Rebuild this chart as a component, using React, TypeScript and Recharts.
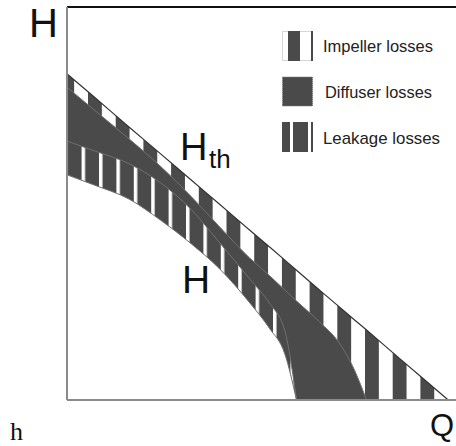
import { ComposedChart, XAxis, YAxis, Area, Line, ReferenceLine } from "recharts";

// flow rate Q (0..100) and head values (0..100)
const Q = [0, 7, 16, 24, 32, 39, 47, 52, 56, 59, 65, 70, 74, 77, 83, 91, 98, 100];
const H_TH = [83, 77.1, 69.4, 62.7, 55.9, 50.0, 43.2, 39.0, 35.6, 33.0, 27.9, 23.7, 20.3, 17.8, 12.7, 5.9, 0, null];
const IMPELLER_LOWER = [79.6, 73.8, 66.4, 59.5, 51.7, 44.3, 36.1, 31.7, 28.0, 25.2, 19.8, 14.5, 7.4, 0, null, null, null, null];
const DIFFUSER_LOWER = [65.9, 63.4, 60.1, 55.3, 48.4, 40.3, 30.8, 24.7, 17.6, 0, null, null, null, null, null, null, null, null];
const H_CURVE = [57.3, 54.7, 51.1, 45.8, 39.7, 33.6, 24.7, 18.3, 11.7, 0, null, null, null, null, null, null, null, null];

const LEGEND = ["Impeller losses", "Diffuser losses", "Leakage losses"];

const DARK = "#4a4a4a";
const LINE = "#6f6f6f";
const FONT = "'Liberation Sans', Arial, sans-serif";

const rows = Q.map((q, i) => ({
	q,
	hth: H_TH[i],
	imp: IMPELLER_LOWER[i],
	dif: DIFFUSER_LOWER[i],
	h: H_CURVE[i],
}));

function LegendIcon({ kind, y }: { kind: number; y: number }) {
	const x = 282;
	if (kind === 0) {
		return (
			<g>
				<rect x={x + 0.5} y={y + 0.5} width={30} height={29} fill="#fff" stroke="#aaa" strokeDasharray="1 1" />
				<rect x={x + 6} y={y} width={12} height={30} fill={DARK} />
				<rect x={x + 29} y={y} width={2} height={30} fill={DARK} />
			</g>
		);
	}
	if (kind === 1) {
		return <rect x={x + 0.5} y={y + 0.5} width={30} height={29} fill={DARK} stroke="#777" strokeDasharray="1 1" />;
	}
	return (
		<g>
			<rect x={x} y={y} width={8} height={30} fill={DARK} />
			<rect x={x + 11} y={y} width={15} height={30} fill={DARK} />
			<rect x={x + 29} y={y} width={2} height={30} fill={DARK} />
		</g>
	);
}

export default function App() {
	const textLengths = [110, 107, 117];
	return (
		<div style={{ position: "absolute", left: 0, top: 0, width: 456, height: 446 }}>
			<ComposedChart
				width={456}
				height={446}
				data={rows}
				margin={{ top: 7, right: 0, bottom: 46, left: 67 }}
			>
				<defs>
					<pattern id="impStripes" patternUnits="userSpaceOnUse" x={88} y={0} width={27.7} height={10}>
						<rect width={27.7} height={10} fill="#fff" />
						<rect width={13.85} height={10} fill={DARK} />
					</pattern>
					<pattern id="leakStripes" patternUnits="userSpaceOnUse" x={99} y={0} width={17.4} height={10}>
						<rect width={17.4} height={10} fill={DARK} />
						<rect width={3.5} height={10} fill="#fff" />
					</pattern>
				</defs>
				<XAxis type="number" dataKey="q" domain={[0, 100]} hide />
				<YAxis type="number" domain={[0, 100]} hide />
				<Area type="monotone" dataKey="hth" fill="url(#impStripes)" fillOpacity={1} stroke="none" isAnimationActive={false} />
				<Area type="monotone" dataKey="imp" fill={DARK} fillOpacity={1} stroke="none" isAnimationActive={false} />
				<Area type="monotone" dataKey="dif" fill="url(#leakStripes)" fillOpacity={1} stroke="none" isAnimationActive={false} />
				<Area type="monotone" dataKey="h" fill="#fff" fillOpacity={1} stroke="none" isAnimationActive={false} />
				<Line type="monotone" dataKey="imp" stroke={LINE} strokeWidth={1} dot={false} isAnimationActive={false} />
				<Line type="monotone" dataKey="dif" stroke={LINE} strokeWidth={1} dot={false} isAnimationActive={false} />
				<Line type="monotone" dataKey="h" stroke={LINE} strokeWidth={1} dot={false} isAnimationActive={false} />
				<Line type="monotone" dataKey="hth" stroke="#333" strokeWidth={1.2} dot={false} isAnimationActive={false} />
				<ReferenceLine y={100} stroke="#111" strokeWidth={2} />
				<ReferenceLine x={0} stroke="#8a8a8a" strokeWidth={2} />
				<ReferenceLine y={0} stroke="#8a8a8a" strokeWidth={2} />
			</ComposedChart>
			<svg
				width={456}
				height={446}
				style={{ position: "absolute", left: 0, top: 0, pointerEvents: "none" }}
			>
				<text x={29} y={37} fontSize={40} fontFamily={FONT} fill="#111">H</text>
				<text x={180} y={160} fontSize={38} fontFamily={FONT} fill="#111">H</text>
				<text x={209} y={168} fontSize={26} fontFamily={FONT} fill="#111">th</text>
				<text x={182} y={293} fontSize={39} fontFamily={FONT} fill="#111">H</text>
				<text x={430} y={436} fontSize={31} fontFamily={FONT} fill="#111">Q</text>
				<text x={10} y={440} fontSize={26} fontFamily="'Liberation Serif', serif" fill="#111">h</text>
				{LEGEND.map((label, i) => (
					<g key={label}>
						<LegendIcon kind={i} y={31 + i * 45.5} />
						<text
							x={i === 1 ? 325 : 323}
							y={52 + i * 46}
							fontSize={17}
							fontFamily={FONT}
							fill="#222"
							textLength={textLengths[i]}
							lengthAdjust="spacingAndGlyphs"
						>
							{label}
						</text>
					</g>
				))}
			</svg>
		</div>
	);
}
